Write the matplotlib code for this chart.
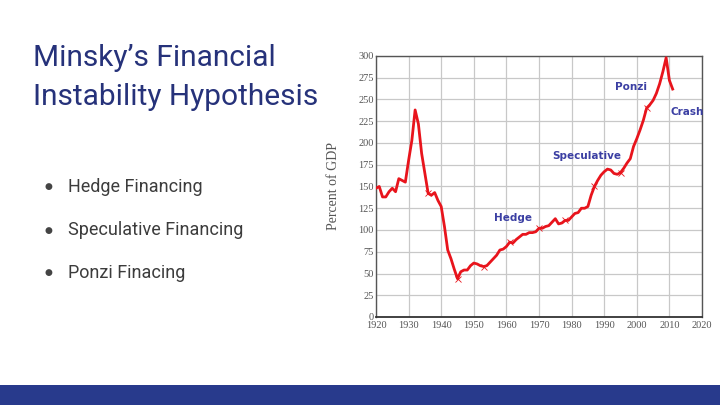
import matplotlib.pyplot as plt
from matplotlib.patches import Rectangle

# debt as percent of GDP
years = list(range(1920, 2012))
debt = [148, 150, 138, 138, 144, 148, 144, 159, 157, 155,
        180, 203, 238, 222, 188, 165, 142, 140, 143, 134,
        127, 104, 77, 67, 55, 44, 52, 54, 54, 59,
        62, 61, 59, 58, 59, 63, 67, 71, 77, 78,
        81, 86, 85, 89, 92, 95, 95, 97, 97, 98,
        102, 102, 104, 105, 109, 113, 107, 108, 111, 111,
        115, 119, 120, 125, 125, 127, 140, 150, 157, 163,
        167, 170, 169, 165, 164, 166, 171, 177, 182, 196,
        205, 215, 226, 240, 244, 249, 257, 268, 282, 298,
        272, 262]

phase_labels = ["Hedge", "Speculative", "Ponzi", "Crash"]
phase_x = [1962, 1984.5, 1998.3, 2010.2]
phase_y = [114, 185, 264, 236]

bullets = ["Hedge Financing", "Speculative Financing", "Ponzi Finacing"]

fig = plt.figure(figsize=(7.2, 4.05), dpi=100)
fig.patch.set_facecolor("white")

# slide text
fig.text(33 / 720, 1 - 66 / 405, "Minsky\u2019s Financial", fontsize=21.5,
         family="Roboto", color="#26327a", va="baseline")
fig.text(33 / 720, 1 - 105 / 405, "Instability Hypothesis", fontsize=21.5,
         family="Roboto", color="#26327a", va="baseline")

for i, b in enumerate(bullets):
    yy = 1 - (187 + 43 * i) / 405
    fig.text(48 / 720, yy, "\u25cf", fontsize=6.5, color="#444444",
             va="center", ha="center", family="DejaVu Sans")
    fig.text(68 / 720, yy, b, fontsize=13, family="Roboto",
             color="#3c3c3c", va="center")

# bottom bar
fig.add_artist(Rectangle((0, 0), 1, 20 / 405, transform=fig.transFigure,
                         facecolor="#283a8c", edgecolor="none"))

ax = fig.add_axes([376 / 720, 1 - 317 / 405, 326 / 720, 261 / 405])
ax.plot(years, debt, color="#e8141c", lw=2, zorder=3,
        marker="x", markersize=4, markeredgewidth=0.6,
        markevery=[16, 25, 33, 41, 50, 58, 67, 75, 83])

for lab, x, y in zip(phase_labels, phase_x, phase_y):
    ha = "left" if lab == "Crash" else "center"
    ax.text(x, y, lab, color="#3b3fa3", fontsize=7.5, fontweight="bold",
            family="DejaVu Sans", ha=ha, va="center", zorder=4)

ax.set_xlim(1920, 2020)
ax.set_ylim(0, 300)
ax.set_xticks(range(1920, 2021, 10))
ax.set_yticks(range(0, 301, 25))
ax.grid(True, color="#c8c8c8", lw=0.9)
ax.set_axisbelow(True)
ax.tick_params(length=0, labelsize=7.5, labelcolor="#555555", pad=1.5)
ax.tick_params(axis="x", pad=3)
for lab in ax.get_xticklabels() + ax.get_yticklabels():
    lab.set_family("Liberation Serif")
for s in ax.spines.values():
    s.set_color("#555555")
    s.set_linewidth(1.0)
ax.spines["bottom"].set_color("#333333")
ax.spines["bottom"].set_linewidth(1.3)
ax.set_ylabel("Percent of GDP", family="Liberation Serif", fontsize=10,
              color="#555555", labelpad=13)

fig.savefig("out.png", dpi=100)
